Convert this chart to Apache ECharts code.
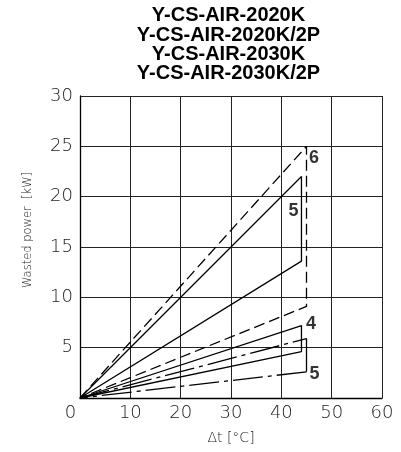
<!DOCTYPE html>
<html><head><meta charset="utf-8">
<script src="https://cdn.jsdelivr.net/npm/echarts@6/dist/echarts.min.js"></script>
<style>html,body{margin:0;padding:0;background:#fff}#c{width:401px;height:452px}</style>
</head><body><div id="c"></div>
<script>
const titleLines = ['Y-CS-AIR-2020K','Y-CS-AIR-2020K/2P','Y-CS-AIR-2030K','Y-CS-AIR-2030K/2P'];
const xTicks = [0,10,20,30,40,50,60];
const yTicks = [0,5,10,15,20,25,30];
const curve6 = [[0,0],[45,25],[45,9.1],[0,0]];
const curve5a = [[0,0],[44,22],[44,13.6],[0,0]];
const curve4 = [[0,0],[44,7.2],[44,4.6],[0,0]];
const curve5b = [[0,0],[45,5.9],[45,2.6],[0,0]];
const curveLabels = [
  {name:'6', pos:[46.5,23.8]},
  {name:'5', pos:[42.4,18.6]},
  {name:'4', pos:[45.9,7.3]},
  {name:'5', pos:[46.6,2.4]}
];
const tickFont = 'DejaVu Sans, sans-serif';
const chart = echarts.init(document.getElementById('c'), null, {renderer:'canvas'});
function lineSeries(data, type){
  return {type:'line', data:data, symbol:'none', silent:true, animation:false,
    lineStyle:{color:'#000', width:1.3, type:type, cap:'butt'}, z:3};
}
chart.setOption({
  animation:false,
  backgroundColor:'#fff',
  grid:{left:80, right:19, top:96, bottom:54, show:false},
  xAxis:{type:'value', min:0, max:60, interval:10,
    name:'Δt [°C]', nameLocation:'middle', nameGap:33,
    nameTextStyle:{fontFamily:tickFont, fontWeight:200, fontSize:14, color:'#222'},
    axisLine:{show:true, lineStyle:{color:'#000', width:1.3}},
    axisTick:{show:false},
    axisLabel:{margin:6, fontFamily:tickFont, fontWeight:200, fontSize:18, color:'#222',
      formatter:v=>xTicks.includes(v)?(v===0?'{z|0}':String(v)):'',
      rich:{z:{fontFamily:tickFont, fontWeight:200, fontSize:18, color:'#222', padding:[0,19,0,0]}}},
    splitLine:{show:true, lineStyle:{color:'#222', width:1}}},
  yAxis:{type:'value', min:0, max:30, interval:5,
    axisLine:{show:true, lineStyle:{color:'#000', width:1.3}},
    axisTick:{show:false},
    axisLabel:{margin:7, fontFamily:tickFont, fontWeight:200, fontSize:18, color:'#222',
      formatter:v=>(v===0?'':(yTicks.includes(v)?String(v):''))},
    splitLine:{show:true, lineStyle:{color:'#222', width:1}}},
  graphic:[
    {type:'text', x:228.5, y:6,
      style:{text:titleLines.join('\n'), fontFamily:'Liberation Sans, Arial, sans-serif', fontWeight:'bold', fontSize:20, lineHeight:19.4, fill:'#000', align:'center', verticalAlign:'top'}},
    {type:'text', x:28, y:230, rotation:Math.PI/2,
      style:{text:'Wasted power  [kW]', fontFamily:tickFont, fontWeight:200, fontSize:11.5, fill:'#222', align:'center', verticalAlign:'middle'}}
  ],
  series:[
    lineSeries(curve6, [11,5]),
    lineSeries(curve5a, 'solid'),
    lineSeries(curve4, 'solid'),
    lineSeries(curve5b.slice(0,2), [30,5,4,5]),
    lineSeries(curve5b.slice(1,3), 'solid'),
    lineSeries(curve5b.slice(2,4), [30,5,4,5]),
    {type:'scatter', symbolSize:0, silent:true, animation:false,
      data:curveLabels.map(d=>({name:d.name, value:d.pos})),
      label:{show:true, position:'inside', formatter:p=>p.name,
        fontFamily:'Liberation Sans Narrow, Liberation Sans, sans-serif', fontWeight:'bold', fontSize:18, color:'#000'}}
  ]
});
</script></body></html>
